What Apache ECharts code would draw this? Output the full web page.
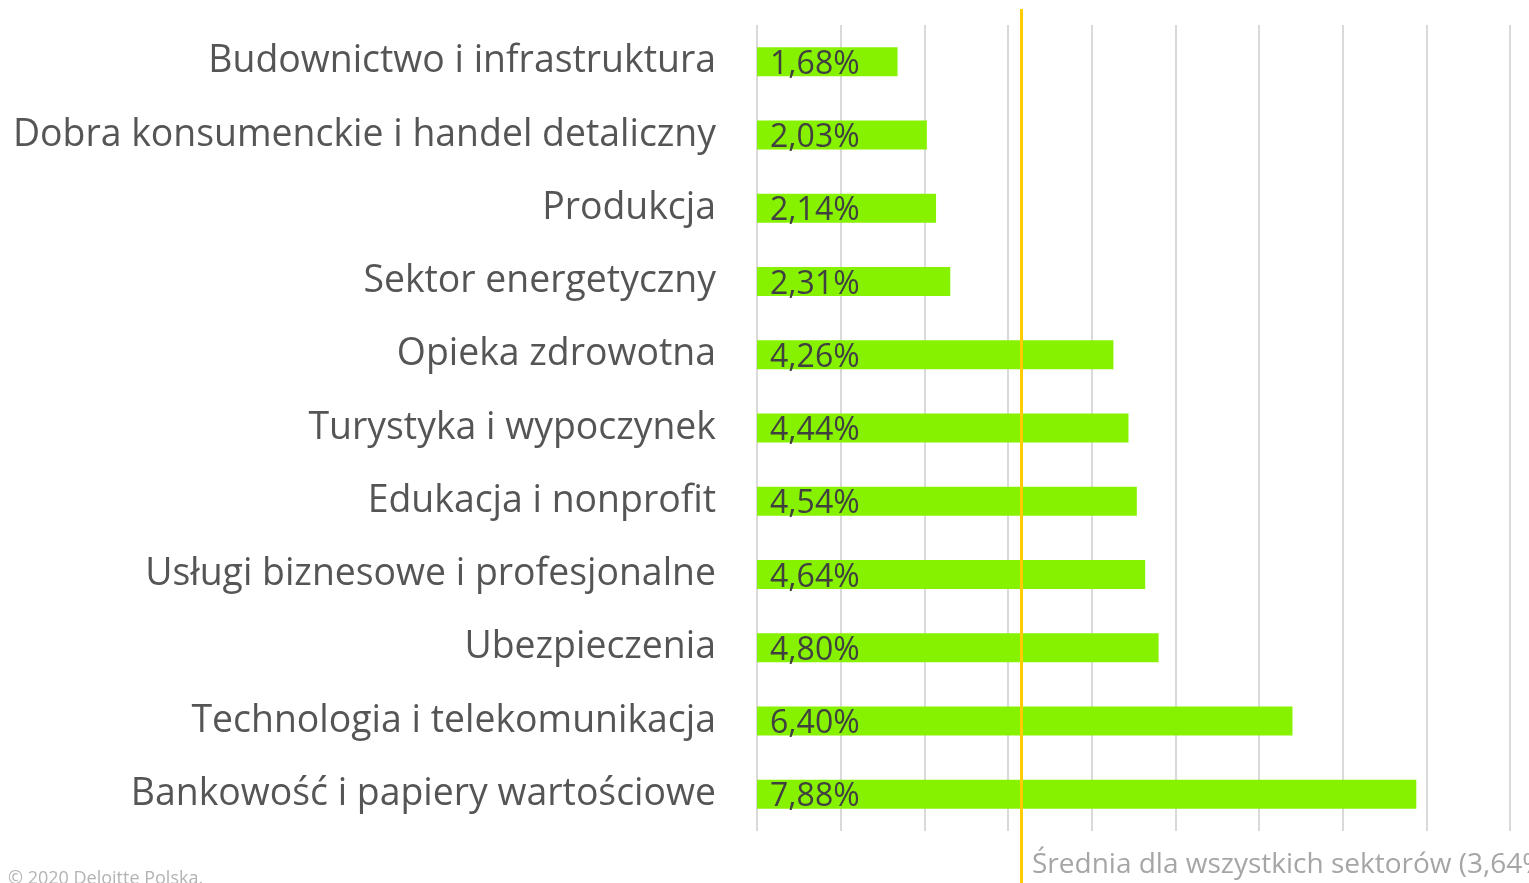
<!DOCTYPE html>
<html>
<head>
<meta charset="utf-8">
<script src="https://cdn.jsdelivr.net/npm/echarts@6/dist/echarts.min.js"></script>
<style>
    html, body {
        margin: 0;
        padding: 0;
        background: #fff;
    }

    #chart {
        width: 1529px;
        height: 883px;
    }
</style>
</head>
<body>
<div id="chart"></div>
<script>
// sektory od góry
const sectors = [
    'Budownictwo i infrastruktura',
    'Dobra konsumenckie i handel detaliczny',
    'Produkcja',
    'Sektor energetyczny',
    'Opieka zdrowotna',
    'Turystyka i wypoczynek',
    'Edukacja i nonprofit',
    'Usługi biznesowe i profesjonalne',
    'Ubezpieczenia',
    'Technologia i telekomunikacja',
    'Bankowość i papiery wartościowe'
]
const shares = [1.68, 2.03, 2.14, 2.31, 4.26, 4.44, 4.54, 4.64, 4.80, 6.40, 7.88]
// linia średniej - pozycja, podpis z wartością
const averageLine = [3.16]
const averageText = ['Średnia dla wszystkich sektorów (3,64%)']
const footer = ['© 2020 Deloitte Polska.']

const font = '"Open Sans", "DejaVu Sans", sans-serif'
const fmt = v => v.toFixed(2).replace('.', ',') + '%'

const mychart = echarts.init(document.getElementById('chart'))
mychart.setOption({
    animation: false,
    textStyle: { fontFamily: font },
    title: [
        {
            text: averageText[0],
            left: 1027,
            top: 846,
            textStyle: { fontFamily: font, fontSize: 28, fontWeight: 'normal', color: '#a6a6a6' }
        },
        {
            text: footer[0],
            left: 3,
            top: 865,
            textStyle: { fontFamily: font, fontSize: 18, fontWeight: 'normal', color: '#b3b3b3' }
        }
    ],
    grid: [
        { left: 757, right: 19, top: 25, bottom: 52 },
        { left: 757, right: 19, top: 9, bottom: 0 }
    ],
    xAxis: [
        {
            gridIndex: 0,
            type: 'value',
            min: 0,
            max: 9,
            interval: 1,
            axisLabel: { show: false },
            axisLine: { show: false },
            axisTick: { show: false },
            splitLine: { lineStyle: { color: '#d9d9d9', width: 2 } }
        },
        {
            gridIndex: 1,
            type: 'value',
            min: 0,
            max: 9,
            show: false,
            splitLine: { show: false }
        }
    ],
    yAxis: [
        {
            gridIndex: 0,
            type: 'category',
            data: sectors,
            inverse: true,
            axisLine: { show: false },
            axisTick: { show: false },
            axisLabel: {
                margin: 41,
                fontSize: 37.4,
                color: '#555555',
                fontFamily: font
            }
        },
        {
            gridIndex: 1,
            type: 'value',
            min: 0,
            max: 1,
            show: false,
            splitLine: { show: false }
        }
    ],
    series: [
        {
            type: 'bar',
            xAxisIndex: 0,
            yAxisIndex: 0,
            data: shares,
            barWidth: 29,
            itemStyle: { color: '#87f200' },
            label: {
                show: true,
                position: 'insideLeft',
                distance: 13,
                offset: [0, 3],
                fontSize: 32,
                color: '#404040',
                fontFamily: font,
                formatter: p => fmt(p.value)
            }
        },
        {
            type: 'line',
            xAxisIndex: 1,
            yAxisIndex: 1,
            data: [],
            z: 5,
            markLine: {
                silent: true,
                symbol: 'none',
                label: { show: false },
                lineStyle: { color: '#ffcc00', width: 3, type: 'solid' },
                data: averageLine.map(v => ({ xAxis: v }))
            }
        }
    ]
})
</script>
</body>
</html>
